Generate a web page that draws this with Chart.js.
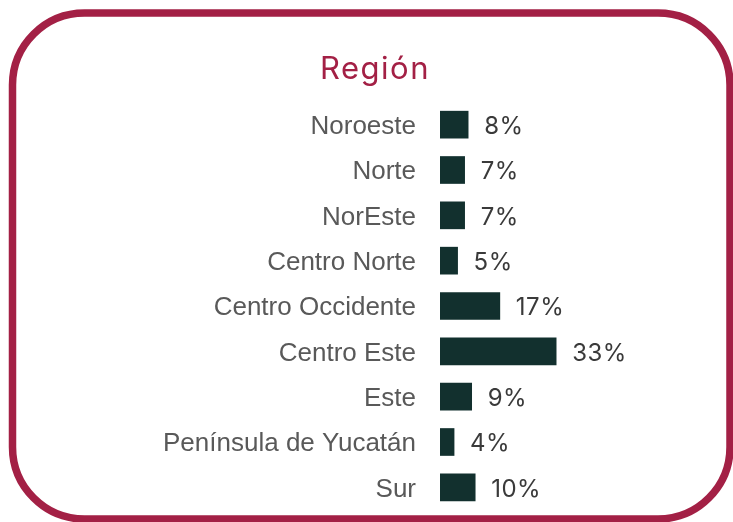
<!DOCTYPE html>
<html>
<head>
<meta charset="utf-8">
<script src="https://cdn.jsdelivr.net/npm/chart.js@4"></script>
<style>
  html, body { margin: 0; padding: 0; background: #fff; }
  #wrap { width: 733px; height: 522px; }
</style>
</head>
<body>
<div id="wrap"><canvas id="regionChart" width="733" height="522"></canvas></div>
<script>
// values
const regiones = ['Noroeste', 'Norte', 'NorEste', 'Centro Norte', 'Centro Occidente',
  'Centro Este', 'Este', 'Península de Yucatán', 'Sur'];
const porcentajes = [8, 7, 7, 5, 17, 33, 9, 4, 10];
const titulo = 'Región';

const guinda = '#A32045';
const verde = '#12302E';

// frame, title and the % labels at bar ends
const decor = {
  id: 'decor',
  beforeDraw(chart) {
    const ctx = chart.ctx;
    ctx.save();
    ctx.strokeStyle = guinda;
    ctx.lineWidth = 7.5;
    ctx.beginPath();
    ctx.roundRect(12.5, 13, 717.5, 506, 72);
    ctx.stroke();
    ctx.fillStyle = guinda;
    ctx.font = '400 31px Inter';
    ctx.letterSpacing = '1.5px';
    ctx.textAlign = 'center';
    ctx.textBaseline = 'alphabetic';
    ctx.fillText(titulo, 375, 79);
    ctx.restore();
  },
  afterDatasetsDraw(chart) {
    const ctx = chart.ctx;
    const meta = chart.getDatasetMeta(0);
    ctx.save();
    ctx.fillStyle = '#3a3a3a';
    ctx.font = '400 24px Inter';
    ctx.letterSpacing = '0.5px';
    ctx.textAlign = 'left';
    ctx.textBaseline = 'middle';
    meta.data.forEach((bar, i) => {
      ctx.fillText(porcentajes[i] + '%', bar.x + 16, bar.y + 2);
    });
    ctx.restore();
  }
};

const ctx = document.getElementById('regionChart').getContext('2d');
new Chart(ctx, {
  type: 'bar',
  data: {
    labels: regiones,
    datasets: [{
      data: porcentajes,
      backgroundColor: verde,
      borderWidth: 0,
      barThickness: 27
    }]
  },
  options: {
    indexAxis: 'y',
    responsive: false,
    animation: false,
    layout: { padding: { left: 0, right: 117, top: 102, bottom: 12 } },
    plugins: {
      legend: { display: false },
      tooltip: { enabled: false }
    },
    scales: {
      x: { display: false, min: 0, max: 50 },
      y: {
        grid: { display: false, drawTicks: false },
        border: { display: false },
        ticks: {
          color: '#595959',
          padding: 24,
          labelOffset: 2,
          font: { family: 'Liberation Sans', size: 26 }
        },
        afterFit(scale) {
          scale.width = 440;
          // labels sit inside the rows, no extra room needed above/below
          scale.paddingTop = 0;
          scale.paddingBottom = 0;
        }
      }
    }
  },
  plugins: [decor]
});
</script>
</body>
</html>
